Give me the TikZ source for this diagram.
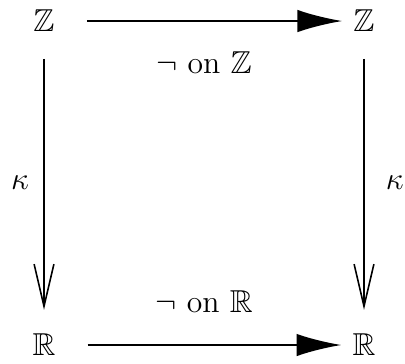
\documentclass[tikz,border=0pt]{standalone}
\usepackage{amsmath,amssymb}
\usetikzlibrary{arrows.meta,positioning,calc}

\begin{document}
\begin{tikzpicture}[
    >=Latex,
    font=\large,
    obj/.style={inner sep=3pt},
    harr/.style={-{Latex[length=17pt,width=8.5pt]}, line width=0.9pt, shorten <=9pt, shorten >=1pt},
    varr/.style={-{Straight Barb[length=16pt,width=7.5pt,line width=0.6pt]}, line width=0.9pt, shorten <=7pt, shorten >=6pt},
    lab/.style={}
]
    \useasboundingbox (0,0) rectangle (5.393,4.834);
    \node[obj] (zl) at (0.586,4.554) {$\mathbb{Z}$};
    \node[obj] (zr) at (4.847,4.554) {$\mathbb{Z}$};
    \node[obj] (rl) at (0.586,0.240) {$\mathbb{R}$};
    \node[obj] (rr) at (4.847,0.240) {$\mathbb{R}$};

    \draw[harr] (zl) -- (zr);
    \draw[harr] (rl) -- (rr);
    \draw[varr] (zl) -- (rl);
    \draw[varr] (zr) -- (rr);

    \node[lab] (ntop) at ($(zl)!0.5!(zr)+(0,-0.55)$) {$\neg$ on $\mathbb{Z}$};
    \node[lab] (nbot) at ($(rl)!0.5!(rr)+(0,0.57)$) {$\neg$ on $\mathbb{R}$};
    \node[lab] (kl) at ($(zl)!0.5!(rl)+(-0.32,0)$) {$\kappa$};
    \node[lab] (kr) at ($(zr)!0.5!(rr)+(0.41,0)$) {$\kappa$};
\end{tikzpicture}
\end{document}
